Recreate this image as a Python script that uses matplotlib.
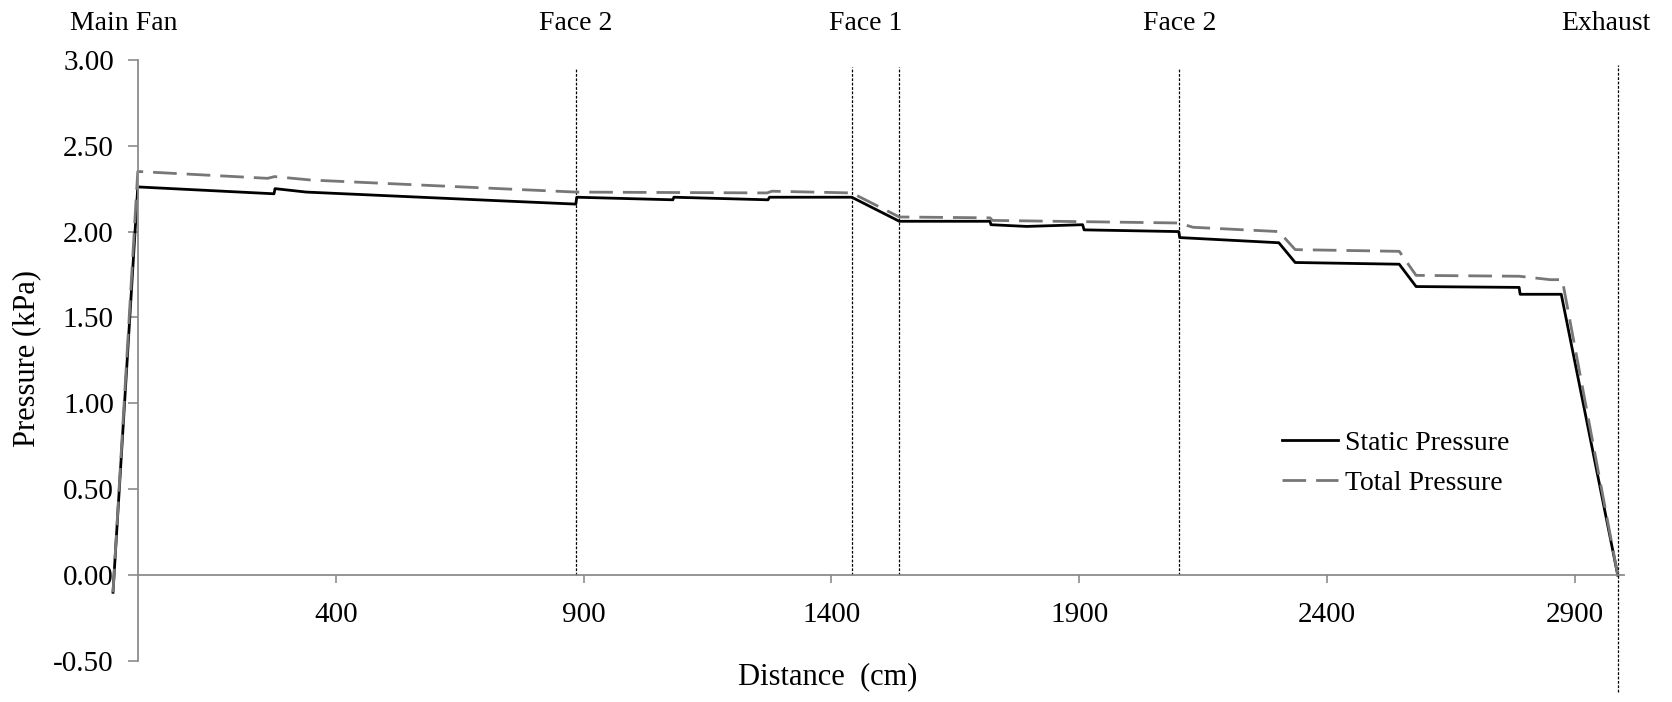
import matplotlib
matplotlib.use("Agg")
import matplotlib.pyplot as plt

# distance (cm) and pressure (kPa)
static_x = [-50, 0, 275, 277, 340, 725, 884, 886, 1080, 1082, 1272, 1275, 1441,
            1537, 1720, 1722, 1794, 1907, 1910, 2101, 2103, 2303, 2336, 2546,
            2580, 2788, 2790, 2873, 2987]
static_p = [-0.10, 2.26, 2.22, 2.25, 2.23, 2.18, 2.16, 2.20, 2.185, 2.20, 2.185,
            2.20, 2.20, 2.06, 2.06, 2.04, 2.03, 2.04, 2.01, 2.00, 1.965, 1.935,
            1.82, 1.81, 1.68, 1.675, 1.635, 1.635, 0.0]

total_x = [-50, 0, 262, 276, 350, 730, 884, 1270, 1280, 1441, 1537, 1720, 1725,
           2101, 2130, 2303, 2336, 2546, 2580, 2788, 2851, 2875, 2987]
total_p = [-0.10, 2.35, 2.31, 2.32, 2.30, 2.25, 2.23, 2.225, 2.235, 2.225, 2.085,
           2.08, 2.065, 2.05, 2.025, 2.00, 1.895, 1.885, 1.745, 1.74, 1.72, 1.72, 0.0]

marker_x = [884, 1441, 1537, 2102, 2987]
marker_top = [2.95, 2.96, 2.96, 2.95, 2.97]
marker_bottom = [0, 0, 0, 0, -0.68]

label_names = ["Main Fan", "Face 2", "Face 1", "Face 2", "Exhaust"]
label_x = [-28, 884, 1470, 2102, 2962]

x_ticks = [400, 900, 1400, 1900, 2400, 2900]
y_ticks = [-0.5, 0.0, 0.5, 1.0, 1.5, 2.0, 2.5, 3.0]

plt.rcParams["font.family"] = ["Liberation Serif", "DejaVu Serif"]
plt.rcParams["font.size"] = 20

fig = plt.figure(figsize=(16.72, 7.02), dpi=100)
ax = fig.add_axes([0.0824, 0.0584, 0.889, 0.8564])

for x, top, bot in zip(marker_x, marker_top, marker_bottom):
    ax.plot([x, x], [bot, top], color="black", lw=0.9, ls=(0, (2.2, 1.3)), clip_on=False)

ax.plot(static_x, static_p, color="black", lw=2.0, label="Static Pressure", clip_on=False)
ax.plot(total_x, total_p, color="#777777", lw=2.0, dashes=(8.5, 3.6), label="Total Pressure", clip_on=False)

for name, x in zip(label_names, label_x):
    ax.text(x, 3.213, name, ha="center", va="center", fontsize=20)

ax.set_xlim(0, 3000)
ax.set_ylim(-0.5, 3.0)
ax.set_xticks(x_ticks)
ax.set_yticks(y_ticks)
ax.set_yticklabels(["%.2f" % v for v in y_ticks])

ax.spines["top"].set_visible(False)
ax.spines["right"].set_visible(False)
ax.spines["bottom"].set_position(("data", 0))
for s in ["left", "bottom"]:
    ax.spines[s].set_color("#8c8c8c")
    ax.spines[s].set_linewidth(1.3)
ax.tick_params(axis="y", direction="out", length=7.2, width=1.2, color="#8c8c8c", pad=10, labelsize=21)
ax.tick_params(axis="x", direction="out", length=6, width=1.2, color="#8c8c8c", pad=13, labelsize=21)

fig.text(0.016, 0.49, "Pressure (kPa)", rotation=90, ha="center", va="center", fontsize=22)
fig.text(0.495, 0.036, "Distance  (cm)", ha="center", va="center", fontsize=22)

ax.legend(loc="upper left", bbox_to_anchor=(0.752, 0.422), bbox_transform=fig.transFigure,
          frameon=False, handlelength=2.0, handletextpad=0.25, labelspacing=0.5, fontsize=20)

fig.savefig("out.png", dpi=100)
